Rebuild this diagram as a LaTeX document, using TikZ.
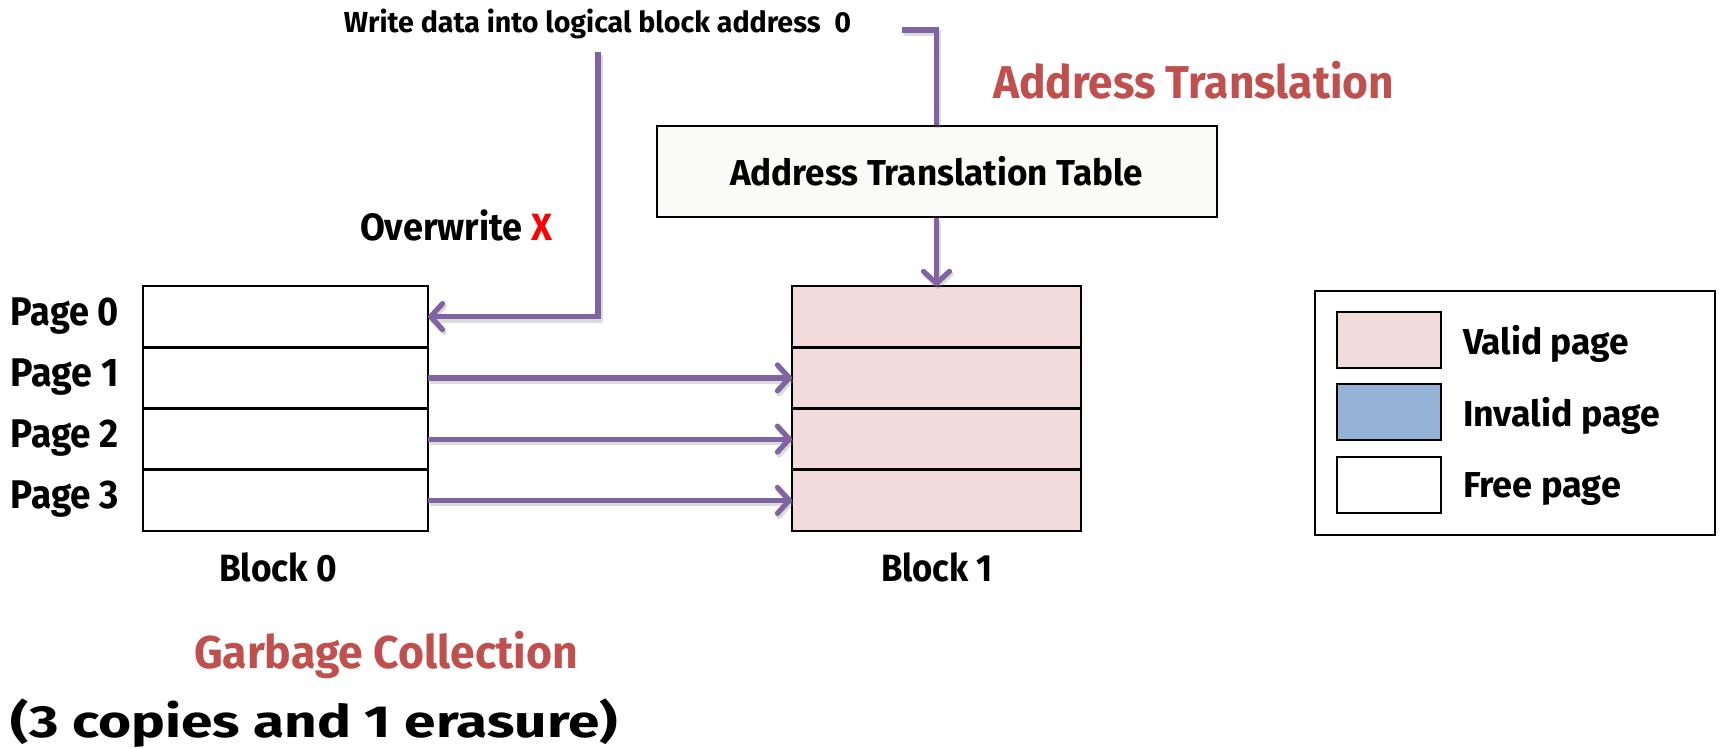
\documentclass[tikz,border=0pt]{standalone}
\usepackage{fontspec}
\usepackage{graphicx}
\setmainfont{Fira Sans}
\usetikzlibrary{arrows.meta}
\definecolor{flow}{HTML}{8064A2}
\definecolor{validfill}{HTML}{F2DCDB}
\definecolor{invalidfill}{HTML}{95B3D7}
\definecolor{tablefill}{HTML}{FAFAF8}
\definecolor{headred}{HTML}{C0504D}
% set a label to a given width, keeping its natural height
\newcommand\fitw[2]{\resizebox{#1}{\height}{#2}}
\newcommand\fsz[1]{\fontsize{#1}{#1}\selectfont\bfseries}
\begin{document}
\begin{tikzpicture}[x=1pt,y=-1pt,
  pagebox/.style={draw, line width=2.6pt, minimum height=61.25pt, inner sep=0pt, outer sep=0pt},
  freepg/.style={pagebox, fill=white, minimum width=285pt},
  validpg/.style={pagebox, fill=validfill, minimum width=289pt},
  lbl/.style={inner sep=0pt, outer sep=0pt},
  swatch/.style={draw, line width=2pt, minimum width=104pt, minimum height=56pt, inner sep=0pt},
  flowline/.style={draw=flow, line width=5.2pt,
    preaction={draw=black!45, opacity=0.3, line width=6pt, transform canvas={shift={(1.5pt,-3pt)}}}},
  flowarrow/.style={flowline, -{Straight Barb[length=12pt,width=26pt,line width=5.2pt,line cap=round,line join=round]}}]
\useasboundingbox (0,0) rectangle (1721,749);

% top labels
\node[lbl] (write) at (597.5,24) {\fitw{507pt}{\fsz{29}Write data into logical block address\ \ 0}};
\node[lbl, text=headred] (xlat) at (1193.5,80) {\fitw{401pt}{\fsz{46}Address Translation}};

% translation table
\node[draw, line width=2pt, fill=tablefill, minimum width=560pt, minimum height=90pt, inner sep=0pt] (att) at (936.5,171.5)
  {\fitw{413pt}{\fsz{36}Address Translation Table}};

\node[lbl] (over) at (456,225) {\fitw{192pt}{\fsz{38}Overwrite \textcolor{red}{X}}};

% block 0 (free pages)
\node[freepg] (a0) at (285.5,316.6) {};
\node[freepg] (a1) at (285.5,377.9) {};
\node[freepg] (a2) at (285.5,439.1) {};
\node[freepg] (a3) at (285.5,500.4) {};

% block 1 (valid pages)
\node[validpg] (b0) at (936.5,316.6) {};
\node[validpg] (b1) at (936.5,377.9) {};
\node[validpg] (b2) at (936.5,439.1) {};
\node[validpg] (b3) at (936.5,500.4) {};

% page labels
\node[lbl] (p0) at (65,315.6) {\fitw{108pt}{\fsz{40}Page 0}};
\node[lbl] (p1) at (65,376.9) {\fitw{108pt}{\fsz{40}Page 1}};
\node[lbl] (p2) at (65,438.1) {\fitw{108pt}{\fsz{40}Page 2}};
\node[lbl] (p3) at (65,499.4) {\fitw{108pt}{\fsz{40}Page 3}};

\node[lbl] (blk0) at (278,567) {\fitw{118pt}{\fsz{38}Block 0}};
\node[lbl] (blk1) at (937,567) {\fitw{112pt}{\fsz{38}Block 1}};

% bottom notes
\node[lbl, text=headred] (gc) at (386,655) {\fitw{384pt}{\fsz{46}Garbage Collection}};
\node[lbl] (gcnote) at (314.5,723) {\fitw{607pt}{\fsz{45}(3 copies and 1 erasure)}};

% legend
\node[draw, line width=1.5pt, minimum width=400pt, minimum height=244pt, inner sep=0pt] (legend) at (1515,413) {};
\node[swatch, fill=validfill] (sv) at (1389,340) {};
\node[swatch, fill=invalidfill] (si) at (1389,411.5) {};
\node[swatch, fill=white] (sf) at (1389,485) {};
\node[lbl, anchor=west] (tv) at (1463,344) {\fitw{166pt}{\fsz{36}Valid page}};
\node[lbl, anchor=west] (ti) at (1463,415.5) {\fitw{197pt}{\fsz{36}Invalid page}};
\node[lbl, anchor=west] (tf) at (1463,489) {\fitw{158pt}{\fsz{36}Free page}};

% connectors
\coordinate (wl) at (598,52);
\coordinate (wr) at (902,30);
\path[flowarrow] (wl) |- (a0.east);
\path[flowline] (wr) -| (att.north);
\path[flowarrow] (att.south) -- (b0.north);
\path[flowarrow] (a1.east) -- (b1.west);
\path[flowarrow] (a2.east) -- (b2.west);
\path[flowarrow] (a3.east) -- (b3.west);
\end{tikzpicture}
\end{document}
